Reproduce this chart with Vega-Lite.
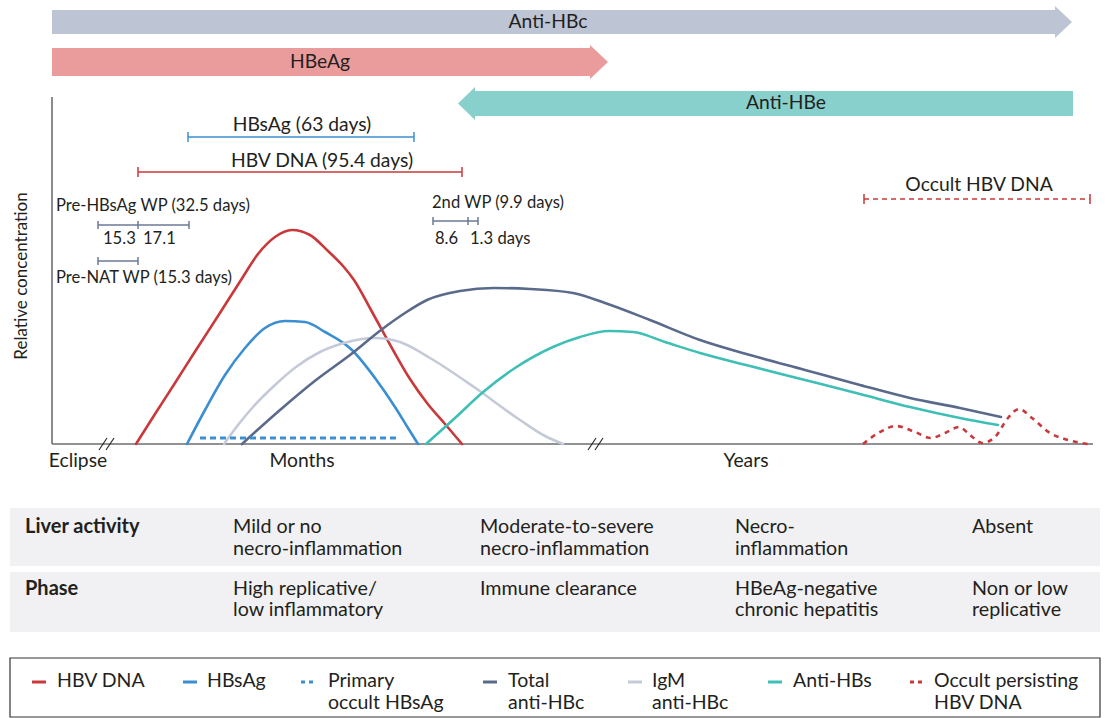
{
  "$schema": "https://vega.github.io/schema/vega-lite/v6.json",
  "width": 1109,
  "height": 718,
  "padding": 0,
  "autosize": {"type": "none"},
  "background": "white",
  "config": {"view": {"stroke": null}, "text": {"font": "Lato", "fontSize": 16, "color": "#231f20"}},
  "datasets": {
    "tablebg": [
      {"row": "Liver activity", "t": 10, "t2": 1100, "v": 508, "v2": 566},
      {"row": "Phase", "t": 10, "t2": 1100, "v": 572, "v2": 632}
    ],
    "legendbox": [
      {"t": 10, "t2": 1100, "v": 658, "v2": 717}
    ],
    "arrows": [
      {"s": "Anti-HBc bar", "t": 52, "t2": 1056, "v": 10, "v2": 34},
      {"s": "HBeAg bar", "t": 52, "t2": 591, "v": 48, "v2": 76},
      {"s": "Anti-HBe bar", "t": 474, "t2": 1073, "v": 91, "v2": 116}
    ],
    "heads": [
      {"s": "Anti-HBc bar", "t": 1055, "v": 6, "v2": 38},
      {"s": "Anti-HBc bar", "t": 1072, "v": 22, "v2": 22},
      {"s": "HBeAg bar", "t": 590, "v": 45, "v2": 79},
      {"s": "HBeAg bar", "t": 608, "v": 62, "v2": 62},
      {"s": "Anti-HBe bar", "t": 458, "v": 103.5, "v2": 103.5},
      {"s": "Anti-HBe bar", "t": 475, "v": 87, "v2": 120}
    ],
    "frame": [
      {"t": 52, "t2": 52, "v": 97, "v2": 444},
      {"t": 52, "t2": 1093, "v": 444, "v2": 444}
    ],
    "slashes": [
      {"t": 99, "t2": 107, "v": 450, "v2": 438},
      {"t": 106, "t2": 114, "v": 450, "v2": 438},
      {"t": 588, "t2": 596, "v": 450, "v2": 438},
      {"t": 595, "t2": 603, "v": 450, "v2": 438}
    ],
    "curves": [
      {"s": "HBV DNA", "t": 136, "v": 444}, {"s": "HBV DNA", "t": 155, "v": 414}, {"s": "HBV DNA", "t": 175, "v": 383},
      {"s": "HBV DNA", "t": 196, "v": 350}, {"s": "HBV DNA", "t": 218, "v": 316}, {"s": "HBV DNA", "t": 241, "v": 280},
      {"s": "HBV DNA", "t": 258, "v": 254}, {"s": "HBV DNA", "t": 275, "v": 237}, {"s": "HBV DNA", "t": 292, "v": 230},
      {"s": "HBV DNA", "t": 310, "v": 235}, {"s": "HBV DNA", "t": 328, "v": 251}, {"s": "HBV DNA", "t": 343, "v": 266},
      {"s": "HBV DNA", "t": 354, "v": 280}, {"s": "HBV DNA", "t": 371, "v": 310}, {"s": "HBV DNA", "t": 393, "v": 350},
      {"s": "HBV DNA", "t": 410, "v": 379}, {"s": "HBV DNA", "t": 427, "v": 403}, {"s": "HBV DNA", "t": 445, "v": 424},
      {"s": "HBV DNA", "t": 462, "v": 444},
      {"s": "HBsAg", "t": 187, "v": 444}, {"s": "HBsAg", "t": 205, "v": 410}, {"s": "HBsAg", "t": 225, "v": 375},
      {"s": "HBsAg", "t": 245, "v": 348}, {"s": "HBsAg", "t": 265, "v": 328}, {"s": "HBsAg", "t": 285, "v": 321},
      {"s": "HBsAg", "t": 305, "v": 322}, {"s": "HBsAg", "t": 325, "v": 332}, {"s": "HBsAg", "t": 352, "v": 350},
      {"s": "HBsAg", "t": 375, "v": 378}, {"s": "HBsAg", "t": 395, "v": 407}, {"s": "HBsAg", "t": 408, "v": 428},
      {"s": "HBsAg", "t": 418, "v": 444},
      {"s": "IgM anti-HBc", "t": 224, "v": 444}, {"s": "IgM anti-HBc", "t": 238, "v": 425}, {"s": "IgM anti-HBc", "t": 253, "v": 407},
      {"s": "IgM anti-HBc", "t": 275, "v": 385}, {"s": "IgM anti-HBc", "t": 296, "v": 367}, {"s": "IgM anti-HBc", "t": 320, "v": 352},
      {"s": "IgM anti-HBc", "t": 344, "v": 343}, {"s": "IgM anti-HBc", "t": 375, "v": 338}, {"s": "IgM anti-HBc", "t": 400, "v": 342},
      {"s": "IgM anti-HBc", "t": 430, "v": 358}, {"s": "IgM anti-HBc", "t": 474, "v": 387}, {"s": "IgM anti-HBc", "t": 520, "v": 420},
      {"s": "IgM anti-HBc", "t": 545, "v": 436}, {"s": "IgM anti-HBc", "t": 563, "v": 444},
      {"s": "Total anti-HBc", "t": 242, "v": 444}, {"s": "Total anti-HBc", "t": 280, "v": 410}, {"s": "Total anti-HBc", "t": 316, "v": 380},
      {"s": "Total anti-HBc", "t": 350, "v": 355}, {"s": "Total anti-HBc", "t": 381, "v": 330}, {"s": "Total anti-HBc", "t": 405, "v": 313},
      {"s": "Total anti-HBc", "t": 427, "v": 300}, {"s": "Total anti-HBc", "t": 460, "v": 291}, {"s": "Total anti-HBc", "t": 494, "v": 288},
      {"s": "Total anti-HBc", "t": 530, "v": 289}, {"s": "Total anti-HBc", "t": 573, "v": 293}, {"s": "Total anti-HBc", "t": 605, "v": 303},
      {"s": "Total anti-HBc", "t": 650, "v": 320}, {"s": "Total anti-HBc", "t": 700, "v": 340}, {"s": "Total anti-HBc", "t": 750, "v": 355},
      {"s": "Total anti-HBc", "t": 805, "v": 370}, {"s": "Total anti-HBc", "t": 860, "v": 385}, {"s": "Total anti-HBc", "t": 910, "v": 398},
      {"s": "Total anti-HBc", "t": 960, "v": 408}, {"s": "Total anti-HBc", "t": 1001, "v": 417},
      {"s": "Anti-HBs", "t": 426, "v": 444}, {"s": "Anti-HBs", "t": 455, "v": 418}, {"s": "Anti-HBs", "t": 482, "v": 393},
      {"s": "Anti-HBs", "t": 515, "v": 368}, {"s": "Anti-HBs", "t": 553, "v": 347}, {"s": "Anti-HBs", "t": 580, "v": 337},
      {"s": "Anti-HBs", "t": 609, "v": 331}, {"s": "Anti-HBs", "t": 633, "v": 332}, {"s": "Anti-HBs", "t": 665, "v": 342},
      {"s": "Anti-HBs", "t": 700, "v": 353}, {"s": "Anti-HBs", "t": 750, "v": 366}, {"s": "Anti-HBs", "t": 805, "v": 380},
      {"s": "Anti-HBs", "t": 860, "v": 394}, {"s": "Anti-HBs", "t": 910, "v": 407}, {"s": "Anti-HBs", "t": 960, "v": 418},
      {"s": "Anti-HBs", "t": 998, "v": 425}
    ],
    "occultcurve": [
      {"s": "Occult persisting HBV DNA", "t": 863, "v": 444}, {"s": "Occult persisting HBV DNA", "t": 880, "v": 432},
      {"s": "Occult persisting HBV DNA", "t": 896, "v": 426}, {"s": "Occult persisting HBV DNA", "t": 915, "v": 432},
      {"s": "Occult persisting HBV DNA", "t": 931, "v": 438}, {"s": "Occult persisting HBV DNA", "t": 945, "v": 433},
      {"s": "Occult persisting HBV DNA", "t": 959, "v": 427}, {"s": "Occult persisting HBV DNA", "t": 970, "v": 435},
      {"s": "Occult persisting HBV DNA", "t": 982, "v": 443}, {"s": "Occult persisting HBV DNA", "t": 995, "v": 437},
      {"s": "Occult persisting HBV DNA", "t": 1008, "v": 418}, {"s": "Occult persisting HBV DNA", "t": 1019, "v": 409},
      {"s": "Occult persisting HBV DNA", "t": 1032, "v": 418}, {"s": "Occult persisting HBV DNA", "t": 1050, "v": 433},
      {"s": "Occult persisting HBV DNA", "t": 1068, "v": 440}, {"s": "Occult persisting HBV DNA", "t": 1088, "v": 444}
    ],
    "primaryocc": [
      {"s": "Primary occult HBsAg", "t": 200, "v": 438},
      {"s": "Primary occult HBsAg", "t": 400, "v": 438}
    ],
    "intervals": [
      {"s": "HBsAg", "t": 188, "t2": 414, "v": 137, "v2": 137},
      {"s": "HBsAg", "t": 188, "t2": 188, "v": 132, "v2": 142},
      {"s": "HBsAg", "t": 414, "t2": 414, "v": 132, "v2": 142},
      {"s": "HBV DNA", "t": 138, "t2": 462, "v": 172, "v2": 172},
      {"s": "HBV DNA", "t": 138, "t2": 138, "v": 167, "v2": 177},
      {"s": "HBV DNA", "t": 462, "t2": 462, "v": 167, "v2": 177},
      {"s": "WP", "t": 98, "t2": 189, "v": 225, "v2": 225},
      {"s": "WP", "t": 98, "t2": 98, "v": 221, "v2": 229},
      {"s": "WP", "t": 138, "t2": 138, "v": 221, "v2": 229},
      {"s": "WP", "t": 189, "t2": 189, "v": 221, "v2": 229},
      {"s": "WP", "t": 98, "t2": 138, "v": 261, "v2": 261},
      {"s": "WP", "t": 98, "t2": 98, "v": 257, "v2": 265},
      {"s": "WP", "t": 138, "t2": 138, "v": 257, "v2": 265},
      {"s": "WP", "t": 433, "t2": 478, "v": 221, "v2": 221},
      {"s": "WP", "t": 433, "t2": 433, "v": 217, "v2": 225},
      {"s": "WP", "t": 468, "t2": 468, "v": 217, "v2": 225},
      {"s": "WP", "t": 478, "t2": 478, "v": 217, "v2": 225},
      {"s": "Occult persisting HBV DNA", "t": 864, "t2": 864, "v": 194, "v2": 204},
      {"s": "Occult persisting HBV DNA", "t": 1090, "t2": 1090, "v": 194, "v2": 204}
    ],
    "dashedinterval": [
      {"s": "Occult persisting HBV DNA", "t": 864, "t2": 1090, "v": 199, "v2": 199}
    ],
    "swatches": [
      {"s": "HBV DNA", "t": 32, "t2": 46, "v": 682, "v2": 682},
      {"s": "HBsAg", "t": 183, "t2": 197, "v": 682, "v2": 682},
      {"s": "Total anti-HBc", "t": 483, "t2": 497, "v": 682, "v2": 682},
      {"s": "IgM anti-HBc", "t": 628, "t2": 642, "v": 682, "v2": 682},
      {"s": "Anti-HBs", "t": 768, "t2": 782, "v": 682, "v2": 682}
    ],
    "dashswatches": [
      {"s": "Primary occult HBsAg", "t": 301, "t2": 316, "v": 682, "v2": 682},
      {"s": "Occult persisting HBV DNA", "t": 910, "t2": 925, "v": 682, "v2": 682}
    ],
    "centerlabels": [
      {"label": "Anti-HBc", "t": 548, "v": 22},
      {"label": "HBeAg", "t": 320, "v": 62},
      {"label": "Anti-HBe", "t": 786, "v": 103},
      {"label": "HBsAg (63 days)", "t": 302, "v": 125},
      {"label": "HBV DNA (95.4 days)", "t": 322, "v": 161},
      {"label": "Occult HBV DNA", "t": 979, "v": 185},
      {"label": "Eclipse", "t": 78, "v": 461},
      {"label": "Months", "t": 302, "v": 461},
      {"label": "Years", "t": 746, "v": 461}
    ],
    "smalllabels": [
      {"label": "Pre-HBsAg WP (32.5 days)", "t": 56, "v": 206},
      {"label": "15.3", "t": 103, "v": 239},
      {"label": "17.1", "t": 143, "v": 239},
      {"label": "Pre-NAT WP (15.3 days)", "t": 56, "v": 278},
      {"label": "2nd WP (9.9 days)", "t": 432, "v": 203},
      {"label": "8.6", "t": 435, "v": 239},
      {"label": "1.3 days", "t": 470, "v": 239}
    ],
    "tableheads": [
      {"label": "Liver activity", "t": 25, "v": 527},
      {"label": "Phase", "t": 25, "v": 589}
    ],
    "tablecells": [
      {"label": "Mild or no", "t": 233, "v": 527},
      {"label": "necro-inflammation", "t": 233, "v": 549},
      {"label": "Moderate-to-severe", "t": 480, "v": 527},
      {"label": "necro-inflammation", "t": 480, "v": 549},
      {"label": "Necro-", "t": 735, "v": 527},
      {"label": "inflammation", "t": 735, "v": 549},
      {"label": "Absent", "t": 972, "v": 527},
      {"label": "High replicative/", "t": 233, "v": 589},
      {"label": "low inflammatory", "t": 233, "v": 610},
      {"label": "Immune clearance", "t": 480, "v": 589},
      {"label": "HBeAg-negative", "t": 735, "v": 589},
      {"label": "chronic hepatitis", "t": 735, "v": 610},
      {"label": "Non or low", "t": 972, "v": 589},
      {"label": "replicative", "t": 972, "v": 610}
    ],
    "legendtext": [
      {"label": "HBV DNA", "t": 57, "v": 681},
      {"label": "HBsAg", "t": 207, "v": 681},
      {"label": "Primary", "t": 328, "v": 681},
      {"label": "occult HBsAg", "t": 328, "v": 703},
      {"label": "Total", "t": 508, "v": 681},
      {"label": "anti-HBc", "t": 508, "v": 703},
      {"label": "IgM", "t": 652, "v": 681},
      {"label": "anti-HBc", "t": 652, "v": 703},
      {"label": "Anti-HBs", "t": 793, "v": 681},
      {"label": "Occult persisting", "t": 934, "v": 681},
      {"label": "HBV DNA", "t": 934, "v": 703}
    ],
    "ytitle": [
      {"label": "Relative concentration", "t": 22, "v": 276}
    ]
  },
  "layer": [
    {
      "data": {"name": "tablebg"},
      "mark": {"type": "rect", "color": "#f1f1f3"},
      "encoding": {
        "x": {"field": "t", "type": "quantitative", "scale": {"domain": [0, 1109], "nice": false, "zero": false}, "axis": null},
        "x2": {"field": "t2"},
        "y": {"field": "v", "type": "quantitative", "scale": {"domain": [0, 718], "nice": false, "zero": false, "reverse": true}, "axis": null},
        "y2": {"field": "v2"}
      }
    },
    {
      "data": {"name": "legendbox"},
      "mark": {"type": "rect", "fill": "white", "stroke": "#333333", "strokeWidth": 1.2},
      "encoding": {
        "x": {"field": "t", "type": "quantitative"},
        "x2": {"field": "t2"},
        "y": {"field": "v", "type": "quantitative"},
        "y2": {"field": "v2"}
      }
    },
    {
      "data": {"name": "arrows"},
      "mark": {"type": "rect"},
      "encoding": {
        "x": {"field": "t", "type": "quantitative"},
        "x2": {"field": "t2"},
        "y": {"field": "v", "type": "quantitative"},
        "y2": {"field": "v2"},
        "color": {"field": "s", "type": "nominal", "legend": null,
          "scale": {"domain": ["HBV DNA", "HBsAg", "Primary occult HBsAg", "Total anti-HBc", "IgM anti-HBc", "Anti-HBs", "Occult persisting HBV DNA", "WP", "Anti-HBc bar", "HBeAg bar", "Anti-HBe bar"],
                    "range": ["#c9383a", "#3b8fd0", "#3b8fd0", "#5a6a8b", "#c5cad8", "#3ebfb6", "#c9383a", "#6b7a99", "#bdc4d4", "#ea9c9c", "#87d0cb"]}}
      }
    },
    {
      "data": {"name": "heads"},
      "mark": {"type": "area", "interpolate": "linear"},
      "encoding": {
        "x": {"field": "t", "type": "quantitative"},
        "y": {"field": "v", "type": "quantitative", "stack": null},
        "y2": {"field": "v2"},
        "color": {"field": "s", "type": "nominal", "legend": null}
      }
    },
    {
      "data": {"name": "frame"},
      "mark": {"type": "rule", "color": "#6d6e71", "strokeWidth": 1.6},
      "encoding": {
        "x": {"field": "t", "type": "quantitative"},
        "x2": {"field": "t2"},
        "y": {"field": "v", "type": "quantitative"},
        "y2": {"field": "v2"}
      }
    },
    {
      "data": {"name": "slashes"},
      "mark": {"type": "rule", "color": "#231f20", "strokeWidth": 1.1},
      "encoding": {
        "x": {"field": "t", "type": "quantitative"},
        "x2": {"field": "t2"},
        "y": {"field": "v", "type": "quantitative"},
        "y2": {"field": "v2"}
      }
    },
    {
      "data": {"name": "curves"},
      "mark": {"type": "line", "interpolate": "monotone", "strokeWidth": 2.6, "strokeCap": "round"},
      "encoding": {
        "x": {"field": "t", "type": "quantitative"},
        "y": {"field": "v", "type": "quantitative"},
        "color": {"field": "s", "type": "nominal", "legend": null}
      }
    },
    {
      "data": {"name": "occultcurve"},
      "mark": {"type": "line", "interpolate": "monotone", "strokeWidth": 2.6, "strokeDash": [5, 5]},
      "encoding": {
        "x": {"field": "t", "type": "quantitative"},
        "y": {"field": "v", "type": "quantitative"},
        "color": {"field": "s", "type": "nominal", "legend": null}
      }
    },
    {
      "data": {"name": "primaryocc"},
      "mark": {"type": "line", "strokeWidth": 3, "strokeDash": [6, 4]},
      "encoding": {
        "x": {"field": "t", "type": "quantitative"},
        "y": {"field": "v", "type": "quantitative"},
        "color": {"field": "s", "type": "nominal", "legend": null}
      }
    },
    {
      "data": {"name": "intervals"},
      "mark": {"type": "rule", "strokeWidth": 1.5},
      "encoding": {
        "x": {"field": "t", "type": "quantitative"},
        "x2": {"field": "t2"},
        "y": {"field": "v", "type": "quantitative"},
        "y2": {"field": "v2"},
        "color": {"field": "s", "type": "nominal", "legend": null}
      }
    },
    {
      "data": {"name": "dashedinterval"},
      "mark": {"type": "rule", "strokeWidth": 1.5, "strokeDash": [5, 4]},
      "encoding": {
        "x": {"field": "t", "type": "quantitative"},
        "x2": {"field": "t2"},
        "y": {"field": "v", "type": "quantitative"},
        "y2": {"field": "v2"},
        "color": {"field": "s", "type": "nominal", "legend": null}
      }
    },
    {
      "data": {"name": "swatches"},
      "mark": {"type": "rule", "strokeWidth": 3},
      "encoding": {
        "x": {"field": "t", "type": "quantitative"},
        "x2": {"field": "t2"},
        "y": {"field": "v", "type": "quantitative"},
        "y2": {"field": "v2"},
        "color": {"field": "s", "type": "nominal", "legend": null}
      }
    },
    {
      "data": {"name": "dashswatches"},
      "mark": {"type": "rule", "strokeWidth": 3, "strokeDash": [4, 4]},
      "encoding": {
        "x": {"field": "t", "type": "quantitative"},
        "x2": {"field": "t2"},
        "y": {"field": "v", "type": "quantitative"},
        "y2": {"field": "v2"},
        "color": {"field": "s", "type": "nominal", "legend": null}
      }
    },
    {
      "data": {"name": "centerlabels"},
      "mark": {"type": "text", "align": "center", "baseline": "middle", "fontSize": 19.3},
      "encoding": {
        "x": {"field": "t", "type": "quantitative"},
        "y": {"field": "v", "type": "quantitative"},
        "text": {"field": "label"}
      }
    },
    {
      "data": {"name": "smalllabels"},
      "mark": {"type": "text", "align": "left", "baseline": "middle", "fontSize": 16.6},
      "encoding": {
        "x": {"field": "t", "type": "quantitative"},
        "y": {"field": "v", "type": "quantitative"},
        "text": {"field": "label"}
      }
    },
    {
      "data": {"name": "tableheads"},
      "mark": {"type": "text", "align": "left", "baseline": "middle", "fontSize": 20, "fontWeight": "bold"},
      "encoding": {
        "x": {"field": "t", "type": "quantitative"},
        "y": {"field": "v", "type": "quantitative"},
        "text": {"field": "label"}
      }
    },
    {
      "data": {"name": "tablecells"},
      "mark": {"type": "text", "align": "left", "baseline": "middle", "fontSize": 19.7},
      "encoding": {
        "x": {"field": "t", "type": "quantitative"},
        "y": {"field": "v", "type": "quantitative"},
        "text": {"field": "label"}
      }
    },
    {
      "data": {"name": "legendtext"},
      "mark": {"type": "text", "align": "left", "baseline": "middle", "fontSize": 19.5},
      "encoding": {
        "x": {"field": "t", "type": "quantitative"},
        "y": {"field": "v", "type": "quantitative"},
        "text": {"field": "label"}
      }
    },
    {
      "data": {"name": "ytitle"},
      "mark": {"type": "text", "align": "center", "baseline": "middle", "fontSize": 17, "angle": 270},
      "encoding": {
        "x": {"field": "t", "type": "quantitative"},
        "y": {"field": "v", "type": "quantitative"},
        "text": {"field": "label"}
      }
    }
  ]
}
